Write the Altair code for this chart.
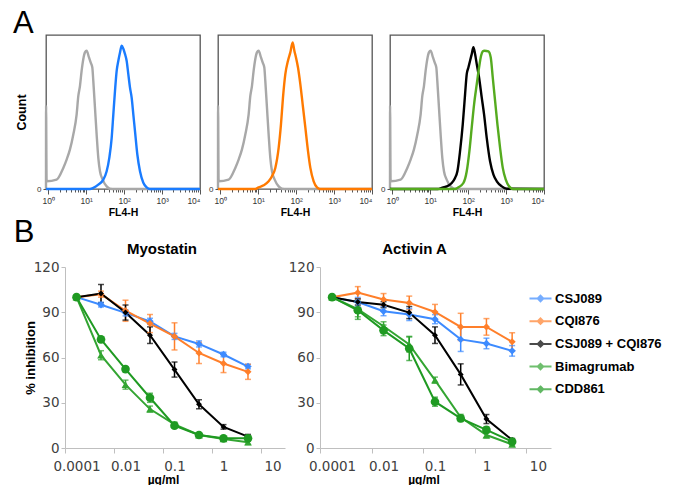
import math
import json
import altair as alt
import pandas as pd

# ---------------- Panel A : flow cytometry histograms ----------------
# x = log10(FL4-H), y = count as % of panel height
GRAY_X = [-0.06, -0.058, -0.044, 0.220, 0.396, 0.484, 0.572, 0.660, 0.748, 0.792, 0.836, 0.879,
          0.923, 0.967, 1.011, 1.073, 1.117, 1.161, 1.187, 1.231, 1.275, 1.319, 1.363, 1.434,
          1.539, 1.627, 1.75, 4.0]
GRAY_Y = [0, 54, 5.0, 6.1, 13.7, 19.1, 25.7, 35.4, 48.5, 60.4, 67.0, 76.7,
          84.3, 88.7, 89.8, 85.4, 82.2, 78.9, 70.2, 52.8, 35.4, 20.2, 11.5, 6.1,
          1.7, 0.2, 0, 0]

BLUE_X = [-0.06, 1.099, 1.187, 1.319, 1.451, 1.539, 1.609, 1.671, 1.715, 1.759, 1.803, 1.847,
          1.891, 1.935, 1.979, 2.023, 2.066, 2.110, 2.154, 2.198, 2.242, 2.286, 2.348, 2.418,
          2.506, 2.594, 2.682, 4.0]
BLUE_Y = [0, 0, 0.7, 2.8, 6.1, 11.5, 20.2, 33.0, 48.5, 63.7, 76.7, 83.3,
          88.7, 93.0, 91.1, 87.6, 83.3, 74.6, 65.9, 59.3, 48.5, 37.6, 22.4, 11.5,
          4.1, 1.1, 0, 0]

ORANGE_X = [-0.06, 0.923, 1.011, 1.143, 1.275, 1.363, 1.451, 1.539, 1.600, 1.653, 1.715, 1.785,
            1.847, 1.908, 1.953, 1.996, 2.049, 2.111, 2.172, 2.243, 2.313, 2.375, 2.462, 2.550,
            2.639, 4.0]
ORANGE_Y = [0, 0, 1.1, 2.4, 5.0, 8.3, 13.7, 26.7, 41.9, 59.3, 74.6, 83.3,
            88.7, 95.2, 89.8, 85.4, 78.9, 68.0, 55.0, 39.8, 24.6, 13.7, 5.0, 1.1,
            0, 0]

BLACK_X = [-0.06, 1.2, 1.303, 1.435, 1.567, 1.655, 1.717, 1.787, 1.858, 1.919, 1.963, 2.007,
           2.051, 2.095, 2.139, 2.183, 2.227, 2.288, 2.359, 2.420, 2.491, 2.579, 2.667, 2.755,
           2.887, 3.018, 4.0]
BLACK_Y = [0, 0, 0.7, 1.7, 3.9, 7.2, 11.5, 24.6, 41.9, 61.5, 74.6, 78.9,
           83.3, 87.6, 92.0, 87.6, 81.1, 72.4, 59.3, 48.5, 33.0, 17.8, 9.3, 5.0,
           1.7, 0.2, 0]

GREEN_X = [-0.06, 1.65, 1.743, 1.875, 1.963, 2.033, 2.095, 2.157, 2.227, 2.288, 2.341, 2.385,
           2.429, 2.535, 2.596, 2.649, 2.711, 2.772, 2.842, 2.913, 2.992, 3.080, 3.194, 4.0]
GREEN_Y = [0, 0, 1.1, 3.9, 11.5, 24.6, 40.0, 55.0, 68.0, 78.9, 86.5, 89.3,
           89.8, 89.3, 85.4, 72.4, 57.0, 42.0, 26.7, 13.7, 6.1, 1.7, 0, 0]

FL_TICKS = [0, 1, 2, 3, 4]
FL_TICK_LABELS = ["10\u2070", "10\u00b9", "10\u00b2", "10\u00b3", "10\u2074"]

# ---------------- Panel B : dose response ----------------
CONC = [0.001, 0.00316, 0.01, 0.0316, 0.1, 0.316, 1, 3.16]   # µg/ml
COMPOUNDS = ["CSJ089", "CQI876", "CSJ089 + CQI876", "Bimagrumab", "CDD861"]

MYO_VALUES = {
    "CSJ089":          [100, 95.0, 89.6, 84.0, 74.0, 69.0, 62.0, 54.0],
    "CQI876":          [100, 102.0, 91.0, 82.5, 74.0, 63.0, 56.0, 50.5],
    "CSJ089 + CQI876": [100, 102.4, 89.8, 74.8, 52.0, 29.0, 14.0, 7.5],
    "Bimagrumab":      [100, 61.5, 42.0, 25.8, 15.7, 8.6, 6.0, 3.8],
    "CDD861":          [100, 72.0, 52.3, 33.3, 14.8, 8.6, 6.4, 6.4],
}
MYO_ERRORS = {
    "CSJ089":          [0, 1.5, 2.0, 2.0, 2.0, 2.0, 1.5, 1.5],
    "CQI876":          [0, 2.0, 7.0, 6.0, 9.0, 7.0, 6.0, 5.0],
    "CSJ089 + CQI876": [0, 6.0, 5.0, 5.5, 5.0, 3.0, 1.5, 1.5],
    "Bimagrumab":      [0, 3.0, 3.0, 2.0, 1.5, 1.5, 1.5, 1.5],
    "CDD861":          [0, 1.5, 1.5, 3.0, 1.5, 1.5, 1.0, 1.0],
}
ACT_VALUES = {
    "CSJ089":          [100, 96.8, 90.7, 88.5, 85.4, 72.0, 69.3, 64.4],
    "CQI876":          [100, 103.0, 98.4, 96.2, 90.2, 80.3, 80.3, 70.4],
    "CSJ089 + CQI876": [100, 96.8, 95.0, 89.8, 74.8, 48.8, 19.2, 5.3],
    "Bimagrumab":      [100, 92.0, 80.7, 68.6, 45.0, 20.3, 8.6, 2.4],
    "CDD861":          [100, 91.3, 78.0, 66.0, 30.7, 19.6, 12.0, 4.2],
}
ACT_ERRORS = {
    "CSJ089":          [0, 3.0, 3.0, 4.0, 3.0, 8.0, 3.5, 3.5],
    "CQI876":          [0, 4.0, 4.0, 4.5, 5.0, 9.0, 5.5, 6.0],
    "CSJ089 + CQI876": [0, 2.0, 2.0, 4.0, 5.5, 7.0, 3.0, 1.0],
    "Bimagrumab":      [0, 5.0, 3.0, 5.0, 2.0, 2.0, 2.0, 1.0],
    "CDD861":          [0, 6.0, 3.5, 8.0, 3.0, 2.0, 2.0, 1.0],
}
X_TICK_VALUES = [0.001, 0.01, 0.1, 1, 10]
X_TICK_LABELS = ["0.0001", "0.01", "0.1", "1", "10"]
Y_TICKS = [0, 30, 60, 90, 120]

# ---------------- styles ----------------
B_COLORS = ["#3d8bff", "#ff7f2a", "#000000", "#33a532", "#1f9a22"]
B_SHAPES = ["diamond", "diamond", "diamond", "triangle-up", "circle"]
B_SIZES = {"CSJ089": 55, "CQI876": 50, "CSJ089 + CQI876": 35, "Bimagrumab": 60, "CDD861": 75}
FONT = "Liberation Sans"

# ---------------- Panel A charts ----------------
MINOR = [d + math.log10(m) for d in range(4) for m in range(2, 10)]
fl_label_expr = ("datum.value == round(datum.value) ? "
                 + json.dumps(FL_TICK_LABELS, ensure_ascii=False)
                 + "[round(datum.value)] : ''")


def fl_axis():
    return alt.Axis(values=FL_TICKS + MINOR, labelExpr=fl_label_expr,
                    tickSize={"condition": {"test": "datum.value == round(datum.value)", "value": 5},
                              "value": 3},
                    tickColor="#555", tickWidth=1, domain=False, grid=False,
                    labelFont=FONT, labelFontSize=8.5, labelColor="#333", labelPadding=2,
                    labelOverlap=False,
                    title="FL4-H", titleFont=FONT, titleFontSize=10.5, titleFontWeight="bold",
                    titleColor="black", titlePadding=3)


def count_axis(show_title):
    kw = dict(values=[0], domain=False, grid=False, tickSize=3, tickColor="#555",
              labelFont=FONT, labelFontSize=8, labelColor="#333", labelPadding=2)
    if show_title:
        kw.update(title="Count", titleFont=FONT, titleFontSize=12.5, titleFontWeight="bold",
                  titleColor="black", titlePadding=8)
    else:
        kw.update(title=None)
    return alt.Axis(**kw)


def hist_panel(curves, show_title):
    layers = []
    for xs, ys, color in curves:
        df = pd.DataFrame({"fl": xs, "count": ys})
        layers.append(
            alt.Chart(df).mark_line(color=color, strokeWidth=2.4, interpolate="monotone").encode(
                x=alt.X("fl:Q", scale=alt.Scale(domain=[-0.06, 4.0], nice=False, zero=False),
                        axis=fl_axis()),
                y=alt.Y("count:Q", scale=alt.Scale(domain=[0, 100], nice=False), axis=count_axis(show_title)),
            )
        )
    return alt.layer(*layers).properties(
        width=154, height=154,
        view=alt.ViewBackground(stroke="#555555", strokeWidth=1.3),
    )


GRAY = "#a8a8a8"
pA1 = hist_panel([(GRAY_X, GRAY_Y, GRAY), (BLUE_X, BLUE_Y, "#1a7cff")], True)
pA2 = hist_panel([(GRAY_X, GRAY_Y, GRAY), (ORANGE_X, ORANGE_Y, "#ff7a00")], False)
pA3 = hist_panel([(GRAY_X, GRAY_Y, GRAY), (BLACK_X, BLACK_Y, "#000000"),
                  (GREEN_X, GREEN_Y, "#55ab1f")], False)

rowA = alt.hconcat(pA1, pA2, pA3, spacing=18, bounds="flush").properties(
    title=alt.TitleParams("A", anchor="start", font=FONT, fontSize=31, fontWeight="normal",
                          color="black", offset=-6, dx=-2)
)

# ---------------- Panel B charts ----------------
X_DOMAIN = [10 ** -3.235, 10 ** 1.255]
x_label_expr = " : ".join(
    f"abs(log(datum.value) / LN10 - ({math.log10(v):.4f})) < 0.01 ? '{l}'"
    for v, l in zip(X_TICK_VALUES, X_TICK_LABELS)
) + " : ''"

LEG_PATH = "M-2.2,0H2.2M0,-0.55L0.55,0L0,0.55L-0.55,0Z"


def dose_chart(values, errors, width, title, title_dx, show_ytitle, show_legend, shift):
    rows = []
    for name in COMPOUNDS:
        for c, v, e in zip(CONC, values[name], errors[name]):
            rows.append(dict(compound=name, conc=c, value=v, lo=v - e, hi=v + e,
                             err=e, msize=B_SIZES[name]))
    df = pd.DataFrame(rows)

    xaxis = alt.Axis(values=X_TICK_VALUES, labelExpr=x_label_expr, tickOffset=-shift,
                     labelOffset=shift, grid=False, domainColor="#bfbfbf", tickColor="#bfbfbf",
                     tickSize=5, labelFont="DejaVu Sans", labelFontSize=13.5, labelColor="#404040",
                     labelPadding=6, labelFlush=False, labelOverlap=False,
                     title="\u00b5g/ml", titleFont=FONT, titleFontSize=12, titleFontWeight="bold",
                     titleColor="black", titlePadding=2, titleX=width / 2 - 12)
    ykw = dict(values=Y_TICKS, grid=False, domainColor="#bfbfbf", tickColor="#bfbfbf", tickSize=4,
               labelFont="DejaVu Sans", labelFontSize=13.5, labelColor="#404040", labelPadding=2)
    if show_ytitle:
        ykw.update(title="% inhibition", titleFont=FONT, titleFontSize=13, titleFontWeight="bold",
                   titleColor="black", titlePadding=-4)
    else:
        ykw.update(title=None)
    yaxis = alt.Axis(**ykw)

    xs = alt.Scale(type="log", domain=X_DOMAIN, nice=False)
    ysc = alt.Scale(domain=[0, 120], nice=False)

    if show_legend:
        legend = alt.Legend(title=None, orient="none", legendX=214, legendY=25,
                            symbolType=LEG_PATH, symbolSize=100, symbolStrokeWidth=2,
                            labelFont=FONT, labelFontWeight="bold", labelFontSize=13,
                            labelColor="black", rowPadding=7.7, labelOffset=8, padding=0)
    else:
        legend = None

    def X():
        return alt.X("conc:Q", scale=xs, axis=xaxis)

    def Y(field):
        return alt.Y(f"{field}:Q", scale=ysc, axis=yaxis)

    def C():
        return alt.Color("compound:N", scale=alt.Scale(domain=COMPOUNDS, range=B_COLORS), legend=legend)

    base = alt.Chart(df)
    eb = base.transform_filter("datum.err > 0")
    lines = base.mark_line(strokeWidth=2).encode(x=X(), y=Y("value"), color=C())
    rules = eb.mark_rule(strokeWidth=1.5).encode(x=X(), y=Y("lo"), y2="hi:Q", color=C())
    cap_lo = eb.mark_tick(orient="horizontal", size=6, thickness=1.5).encode(x=X(), y=Y("lo"), color=C())
    cap_hi = eb.mark_tick(orient="horizontal", size=6, thickness=1.5).encode(x=X(), y=Y("hi"), color=C())
    layers = [lines, rules, cap_lo, cap_hi]
    for shp in dict.fromkeys(B_SHAPES):
        members = [c for c, s in zip(COMPOUNDS, B_SHAPES) if s == shp]
        layers.append(
            base.transform_filter(alt.FieldOneOfPredicate(field="compound", oneOf=members))
            .mark_point(shape=shp, filled=True, opacity=1)
            .encode(x=X(), y=Y("value"), color=C(), size=alt.Size("msize:Q", scale=None, legend=None))
        )
    return alt.layer(*layers).properties(
        width=width, height=181,
        title=alt.TitleParams(title, font=FONT, fontSize=15, fontWeight="bold", color="black",
                              offset=3, dx=title_dx),
    )


myo = dose_chart(MYO_VALUES, MYO_ERRORS, 220, "Myostatin", -13, True, False, 11.3)
act = dose_chart(ACT_VALUES, ACT_ERRORS, 231, "Activin A", -21, False, True, 11.8)

pair = alt.hconcat(myo, act, spacing=35, bounds="flush").resolve_scale(
    color="independent"
).resolve_legend(color="independent")

# empty spacer so that the Myostatin plot sits right of panel A's first box
spacer = alt.Chart(pd.DataFrame({"v": [0]})).mark_point(opacity=0).encode(
    x=alt.X("v:Q", axis=None), y=alt.Y("v:Q", axis=None)
).properties(width=19, height=181)

rowB = alt.hconcat(spacer, pair, spacing=0, bounds="flush").properties(
    title=alt.TitleParams("B", anchor="start", font=FONT, fontSize=31, fontWeight="normal",
                          color="black", offset=-7, dx=-10)
)

chart = alt.vconcat(rowA, rowB, spacing=-3).properties(
    padding={"left": 4, "top": 0, "right": 2, "bottom": 0}
).configure_view(stroke="transparent")

chart.save("out.html", embed_options={"renderer": "svg", "actions": False})
